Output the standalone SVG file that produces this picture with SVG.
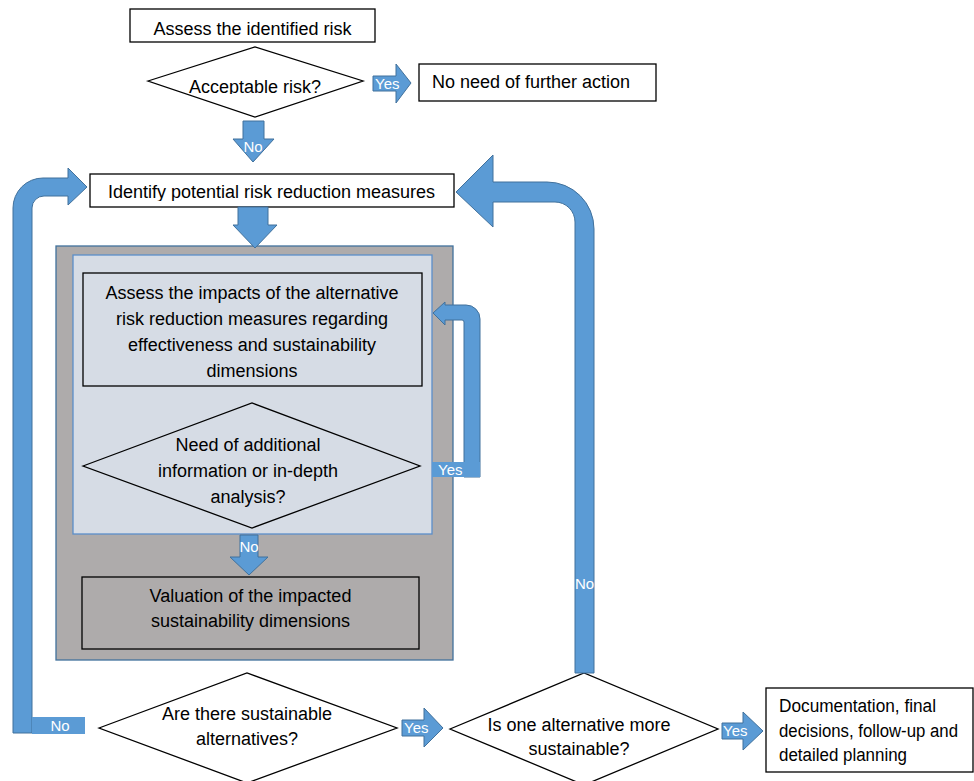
<svg xmlns="http://www.w3.org/2000/svg" width="974" height="781" viewBox="0 0 974 781">
<style>
.box{fill:#fff;stroke:#000;stroke-width:1.3}
.dia{fill:#fff;stroke:#000;stroke-width:1.3}
.t{font-family:"Liberation Sans",Arial,sans-serif;font-size:18px;fill:#000}
.c{text-anchor:middle}
.arr{fill:#5B9BD5;stroke:#41719C;stroke-width:1}
.lab{fill:#5B9BD5}
.lt{font-family:"Liberation Sans",Arial,sans-serif;font-size:15px;fill:#fff}
</style>
<defs>
<clipPath id="clipA"><rect x="140" y="40" width="240" height="54"/></clipPath>
<clipPath id="clipB"><rect x="90" y="170" width="364" height="31"/></clipPath>
</defs>
<rect width="974" height="781" fill="#fff"/>
<g id="container">
<rect x="56" y="246" width="397" height="414" fill="#AEABAB" stroke="#41719C" stroke-width="1.3"/>
<rect x="73" y="255" width="359" height="279" fill="#D6DCE5" stroke="#5B8EC9" stroke-width="1.3"/>
</g>
<g id="n-assess">
<rect class="box" x="130" y="9" width="245" height="33"/>
<text class="t c" x="252.5" y="35">Assess the identified risk</text>
</g>
<g id="n-acceptable">
<polygon class="dia" points="148,81 255,47 363,81 255,117"/>
<text class="t c" x="255" y="93" clip-path="url(#clipA)">Acceptable risk?</text>
</g>
<g id="n-noneed">
<rect class="box" x="419" y="64" width="237" height="37"/>
<text class="t" x="432" y="88" font-size="18.3">No need of further action</text>
</g>
<g id="n-identify">
<rect class="box" x="90" y="174" width="364" height="33"/>
<text class="t c" x="271.5" y="198" font-size="18.7" clip-path="url(#clipB)">Identify potential risk reduction measures</text>
</g>
<g id="n-impacts">
<rect x="83" y="273" width="339" height="113" fill="none" stroke="#000" stroke-width="1.3"/>
<text class="t c" x="252" y="299">Assess the impacts of the alternative</text>
<text class="t c" x="252" y="325">risk reduction measures regarding</text>
<text class="t c" x="252" y="351">effectiveness and sustainability</text>
<text class="t c" x="252" y="377">dimensions</text>
</g>
<g id="n-needinfo">
<polygon points="83,466 252,403 420,466 252,528" fill="#D6DCE5" stroke="#000" stroke-width="1.3"/>
<text class="t c" x="248" y="451">Need of additional</text>
<text class="t c" x="248" y="477">information or in-depth</text>
<text class="t c" x="248" y="503">analysis?</text>
</g>
<g id="n-valuation">
<rect x="82" y="577" width="337" height="72" fill="#AEABAB" stroke="#000" stroke-width="1.3"/>
<text class="t c" x="250.5" y="602">Valuation of the impacted</text>
<text class="t c" x="250.5" y="627">sustainability dimensions</text>
</g>
<g id="n-sustalt">
<polygon class="dia" points="99,728 247,673 397,728 247,783"/>
<text class="t c" x="247" y="720">Are there sustainable</text>
<text class="t c" x="247" y="745">alternatives?</text>
</g>
<g id="n-onemore">
<polygon class="dia" points="450,729 584,673 718,729 584,785"/>
<text class="t c" x="579" y="731">Is one alternative more</text>
<text class="t c" x="579" y="755">sustainable?</text>
</g>
<g id="n-doc">
<rect class="box" x="766" y="688" width="207" height="84"/>
<text class="t" x="779" y="712" font-size="16.5" textLength="157" lengthAdjust="spacingAndGlyphs">Documentation, final</text>
<text class="t" x="779" y="737" font-size="16.5" textLength="179" lengthAdjust="spacingAndGlyphs">decisions, follow-up and</text>
<text class="t" x="779" y="761" font-size="16.5" textLength="128" lengthAdjust="spacingAndGlyphs">detailed planning</text>
</g>
<g id="connectors">
<polygon class="arr" points="373,76 396,76 396,64 411,83 396,103 396,91 373,91"/>
<text class="lt" x="375" y="89">Yes</text>
<polygon class="arr" points="243,121 264,121 264,139 274,139 253,162 233,139 243,139"/>
<text class="lt c" x="253" y="152" font-size="14">No</text>
<polygon class="arr" points="238,207 268,207 268,225 277,225 255,248 233,225 238,225"/>
<path class="arr" d="M13,733 L13,208 A30,30 0 0 1 43,178 L68,178 L68,168 L87,187 L68,205 L68,196 L44,196 A12,12 0 0 0 32,208 L32,733 Z"/>
<rect class="lab" x="32" y="717" width="53" height="17"/>
<text class="lt c" x="60" y="731" font-size="16">No</text>
<path class="arr" d="M594,673 L594,229 A47,47 0 0 0 547,182 L493,182 L493,155 L456,192 L493,227 L493,202 L555,202 A20,20 0 0 1 575,222 L575,673 Z"/>
<text class="lt c" x="584.5" y="589" font-size="14">No</text>
<path class="arr" d="M480,477 L480,319 A14,14 0 0 0 466,305 L445,305 L445,302 L433,313 L445,325 L445,320 L462,320 A2,2 0 0 1 464,322 L464,477 Z"/>
<rect class="lab" x="432" y="462" width="48" height="15"/>
<text class="lt" x="438" y="475">Yes</text>
<polygon class="arr" points="240,535 258,535 258,557 268,557 249,575 230,557 240,557"/>
<text class="lt c" x="249" y="552" font-size="14">No</text>
<polygon class="arr" points="402,720 424,720 424,708 443,728 424,747 424,736 402,736"/>
<text class="lt" x="404" y="733" font-size="16">Yes</text>
<polygon class="arr" points="722,723 743,723 743,712 763,731 743,750 743,739 722,739"/>
<text class="lt" x="723" y="736" font-size="16">Yes</text>
</g>
</svg>
